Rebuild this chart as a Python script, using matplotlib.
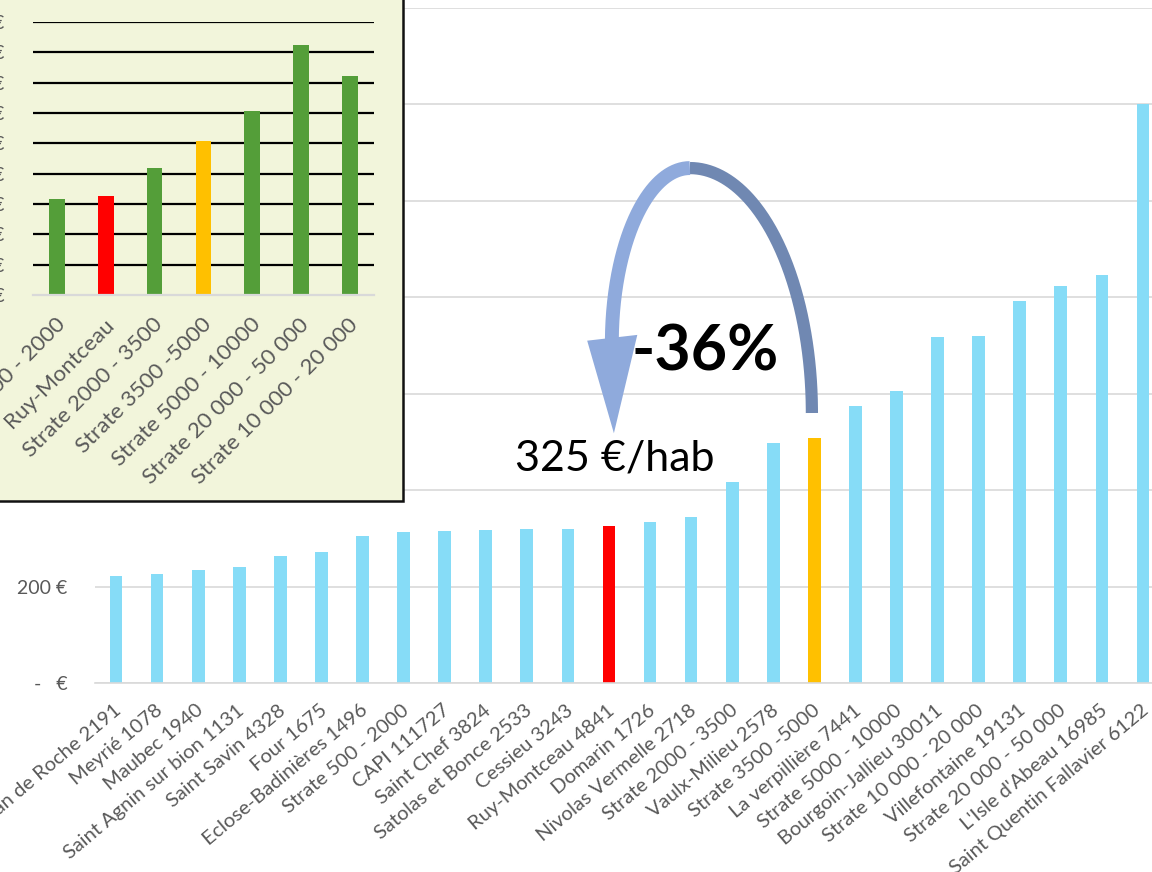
import numpy as np
import matplotlib
matplotlib.use("Agg")
import matplotlib.pyplot as plt
from matplotlib.patches import Rectangle, Polygon
from matplotlib.lines import Line2D
from matplotlib.transforms import ScaledTranslation

# ---------------- data ----------------
communes = [
    "Saint Alban de Roche 2191", "Meyrié 1078", "Maubec 1940",
    "Saint Agnin sur bion 1131", "Saint Savin 4328", "Four 1675",
    "Eclose-Badinières 1496", "Strate 500 - 2000", "CAPI 111727",
    "Saint Chef 3824", "Satolas et Bonce 2533", "Cessieu 3243",
    "Ruy-Montceau 4841", "Domarin 1726", "Nivolas Vermelle 2718",
    "Strate 2000 - 3500", "Vaulx-Milieu 2578", "Strate 3500 -5000",
    "La verpillière 7441", "Strate 5000 - 10000", "Bourgoin-Jallieu 30011",
    "Strate 10 000 - 20 000", "Villefontaine 19131", "Strate 20 000 - 50 000",
    "L'Isle d'Abeau 16985", "Saint Quentin Fallavier 6122",
]
valeurs = [222, 226, 234, 241, 264, 272, 305, 314, 315, 317, 320, 320,
           325, 333, 344, 417, 498, 508, 575, 606, 718, 720, 793, 824,
           846, 1201]

inset_labels = ["Strate 500 - 2000", "Ruy-Montceau", "Strate 2000 - 3500",
                "Strate 3500 -5000", "Strate 5000 - 10000",
                "Strate 20 000 - 50 000", "Strate 10 000 - 20 000"]
inset_values = [316, 325, 418, 508, 606, 825, 722]

main_ticks = [0, 200, 400, 600, 800, 1000, 1200, 1400]
inset_ticks = [0, 100, 200, 300, 400, 500, 600, 700, 800, 900]

ref_commune = "Ruy-Montceau 4841"
ref_strate = "Strate 3500 -5000"
label_hab = "325 €/hab"
label_pct = "-36%"

# ---------------- style ----------------
BLUE = "#86DCF7"
RED = "#FF0000"
YELLOW = "#FFC000"
GREEN = "#549E39"
GRID = "#D9D9D9"
TXT = "#595959"
INSET_BG = "#F2F5DB"
ARROW_L = "#8FAADC"
ARROW_R = "#7088B2"

plt.rcParams["font.family"] = ["Lato", "DejaVu Sans"]

W, H = 1152, 872
fig = plt.figure(figsize=(W / 100, H / 100), dpi=100)

# ---------------- main chart ----------------
step = 41.08
x0 = 116 - step / 2
ax = fig.add_axes([x0 / W, (H - 683) / H, len(communes) * step / W, (683 - 8) / H])
x = np.arange(len(communes))
colors = [RED if c == ref_commune else YELLOW if c == ref_strate else BLUE
          for c in communes]
ax.bar(x, valeurs, width=0.31, color=colors, zorder=2)
ax.set_xlim(-0.5, len(communes) - 0.5)
ax.set_ylim(0, 1400)
ax.set_yticks(main_ticks)
ax.set_yticklabels(["-   €" if v == 0 else f"{v:,} €".replace(",", " ")
                    for v in main_ticks])
ax.yaxis.grid(True, color=GRID, lw=1.2, zorder=0)
ax.set_axisbelow(True)
for s in ["top", "right", "left"]:
    ax.spines[s].set_visible(False)
ax.spines["bottom"].set_color(GRID)
ax.spines["bottom"].set_linewidth(1.2)
ax.tick_params(axis="y", length=0, pad=20, labelsize=14, labelcolor=TXT)
ax.tick_params(axis="x", length=0, pad=18, labelsize=14.5, labelcolor=TXT)
ax.set_xticks(x)
ax.set_xticklabels(communes, rotation=40, ha="right", va="center",
                   rotation_mode="anchor")
off = ScaledTranslation(3 / 100, 0, fig.dpi_scale_trans)
for lab in ax.get_xticklabels():
    lab.set_transform(lab.get_transform() + off)

# ---------------- curved arrow ----------------
i_ruy = communes.index(ref_commune)
i_str = communes.index(ref_strate)
apex_x, apex_y = 13.97, 1068
tail_x, tail_y = i_str - 0.06, 560
end_x, end_y = i_ruy + 0.07, 705

t = np.linspace(0, np.pi / 2, 200)
rx = apex_x + (tail_x - apex_x) * np.sin(t)
ry = tail_y + (apex_y - tail_y) * np.cos(t)
lx = apex_x - (apex_x - end_x) * np.sin(t)
ly = end_y + (apex_y - end_y) * np.cos(t)

ax.add_line(Line2D(rx, ry, color=ARROW_R, lw=8.8, solid_capstyle="butt",
                   solid_joinstyle="round", zorder=5, clip_on=False))
ax.add_line(Line2D(lx, ly, color=ARROW_L, lw=10, solid_capstyle="butt",
                   solid_joinstyle="round", zorder=5, clip_on=False))
head = Polygon([[i_ruy - 0.53, 710], [i_ruy + 0.69, 722], [i_ruy + 0.12, 518]],
               closed=True, facecolor=ARROW_L, edgecolor="none", zorder=6,
               clip_on=False)
ax.add_patch(head)

ax.text(i_ruy + 0.15, 440, label_hab, ha="center", va="baseline",
        fontsize=31, color="black", zorder=7)
ax.text(14.34, 649, label_pct, ha="center", va="baseline",
        fontsize=45, fontweight="bold", color="black", zorder=7)

# ---------------- inset ----------------
bg = Rectangle((-10 / W, (H - 501) / H), (403 + 10) / W, 501 / H + 0.05,
               transform=fig.transFigure, facecolor=INSET_BG,
               edgecolor="#111111", lw=1.8, zorder=1)
fig.patches.append(bg)

istep = 48.8
ix0 = 57 - istep / 2
axi = fig.add_axes([ix0 / W, (H - 295) / H, len(inset_labels) * istep / W,
                    (295 - 22) / H], zorder=2)
axi.patch.set_visible(False)
xi = np.arange(len(inset_labels))
icolors = [RED if l == "Ruy-Montceau" else YELLOW if l == ref_strate else GREEN
           for l in inset_labels]
axi.bar(xi, inset_values, width=0.32, color=icolors, zorder=2)
axi.set_xlim(-0.5, len(inset_labels) - 0.5)
axi.set_ylim(0, 900)
axi.set_yticks(inset_ticks)
axi.set_yticklabels(["-   €" if v == 0 else f"{v} €" for v in inset_ticks])
for v in inset_ticks[1:]:
    axi.axhline(v, color="black", lw=1.6, zorder=1)
for s in ["top", "right", "left"]:
    axi.spines[s].set_visible(False)
axi.spines["bottom"].set_color(GRID)
axi.spines["bottom"].set_linewidth(1.6)
axi.tick_params(axis="y", length=0, pad=20.5, labelsize=14, labelcolor=TXT)
axi.tick_params(axis="x", length=0, pad=19, labelsize=16, labelcolor=TXT)
axi.set_xticks(xi)
axi.set_xticklabels(inset_labels, rotation=45, ha="right", va="center",
                    rotation_mode="anchor")
off2 = ScaledTranslation(5 / 100, 0, fig.dpi_scale_trans)
for lab in axi.get_xticklabels():
    lab.set_transform(lab.get_transform() + off2)

fig.savefig("out.png", dpi=100)
